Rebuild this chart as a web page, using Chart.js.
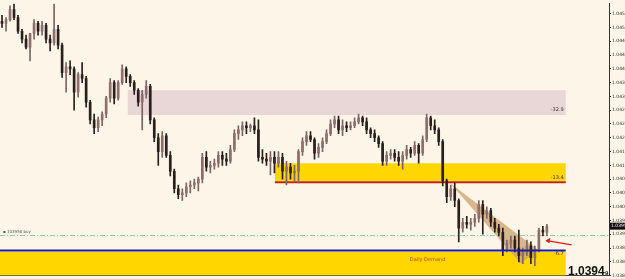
<!DOCTYPE html>
<html>
<head>
<meta charset="utf-8">
<script src="https://cdn.jsdelivr.net/npm/chart.js@4.4.1/dist/chart.umd.min.js"></script>
<style>
  html, body { margin: 0; padding: 0; background: #fdf6e8; }
  #wrap { width: 625px; height: 279px; position: relative; }
</style>
</head>
<body>
<div id="wrap"><canvas id="priceChart"></canvas></div>
<script>
// GBPUSD-style candles (left to right)
const opens = [
  1.04543, 1.04537, 1.04548, 1.04577, 1.04554, 1.04514, 1.04491, 1.04468, 1.04508, 1.04537,
  1.04514, 1.04531, 1.04491, 1.04480, 1.04520, 1.04474, 1.04394, 1.04411, 1.04405, 1.04337,
  1.04388, 1.04377, 1.04308, 1.04257, 1.04234, 1.04257, 1.04274, 1.04320, 1.04365, 1.04320,
  1.04365, 1.04405, 1.04383, 1.04365, 1.04343, 1.04308, 1.04331, 1.04354, 1.04257, 1.04205,
  1.04165, 1.04211, 1.04154, 1.04108, 1.04057, 1.04040, 1.04045, 1.04063, 1.04068, 1.04074,
  1.04085, 1.04148, 1.04120, 1.04125, 1.04131, 1.04154, 1.04143, 1.04137, 1.04171, 1.04217,
  1.04228, 1.04240, 1.04234, 1.04240, 1.04228, 1.04148, 1.04143, 1.04137, 1.04148, 1.04131,
  1.04148, 1.04108, 1.04120, 1.04103, 1.04108, 1.04165, 1.04194, 1.04211, 1.04200, 1.04160,
  1.04177, 1.04194, 1.04217, 1.04245, 1.04257, 1.04228, 1.04240, 1.04234, 1.04240, 1.04251,
  1.04263, 1.04251, 1.04228, 1.04217, 1.04205, 1.04188, 1.04137, 1.04154, 1.04160, 1.04148,
  1.04137, 1.04154, 1.04171, 1.04160, 1.04183, 1.04160, 1.04200, 1.04263, 1.04240, 1.04228,
  1.04194, 1.04080, 1.04034, 1.04057, 1.04023, 1.03943, 1.03960, 1.03954, 1.03960, 1.03971,
  1.04011, 1.03983, 1.03994, 1.03960, 1.03943, 1.03931, 1.03880, 1.03897, 1.03908, 1.03885,
  1.03863, 1.03874, 1.03891, 1.03857, 1.03880, 1.03937, 1.03931
];
const highs = [
  1.04560, 1.04554, 1.04588, 1.04594, 1.04560, 1.04520, 1.04503, 1.04480, 1.04548, 1.04543,
  1.04543, 1.04537, 1.04503, 1.04594, 1.04531, 1.04480, 1.04423, 1.04428, 1.04411, 1.04394,
  1.04423, 1.04383, 1.04314, 1.04274, 1.04265, 1.04280, 1.04325, 1.04377, 1.04371, 1.04371,
  1.04417, 1.04411, 1.04388, 1.04371, 1.04348, 1.04343, 1.04371, 1.04360, 1.04263, 1.04217,
  1.04223, 1.04217, 1.04165, 1.04114, 1.04068, 1.04057, 1.04074, 1.04080, 1.04085, 1.04091,
  1.04160, 1.04165, 1.04137, 1.04143, 1.04165, 1.04165, 1.04160, 1.04183, 1.04228, 1.04240,
  1.04251, 1.04251, 1.04245, 1.04263, 1.04257, 1.04171, 1.04160, 1.04165, 1.04165, 1.04165,
  1.04160, 1.04137, 1.04131, 1.04125, 1.04171, 1.04205, 1.04223, 1.04223, 1.04205, 1.04188,
  1.04205, 1.04228, 1.04257, 1.04268, 1.04268, 1.04257, 1.04251, 1.04251, 1.04263, 1.04274,
  1.04268, 1.04263, 1.04234, 1.04228, 1.04211, 1.04194, 1.04165, 1.04171, 1.04171, 1.04165,
  1.04165, 1.04183, 1.04177, 1.04194, 1.04188, 1.04211, 1.04274, 1.04268, 1.04257, 1.04234,
  1.04200, 1.04085, 1.04068, 1.04074, 1.04028, 1.03971, 1.03977, 1.03971, 1.03983, 1.04023,
  1.04023, 1.04005, 1.04000, 1.03971, 1.03954, 1.03943, 1.03908, 1.03920, 1.03920, 1.03937,
  1.03885, 1.03908, 1.03903, 1.03891, 1.03943, 1.03948, 1.03954
];
const lows = [
  1.04525, 1.04514, 1.04543, 1.04548, 1.04508, 1.04480, 1.04463, 1.04428, 1.04491, 1.04503,
  1.04503, 1.04480, 1.04457, 1.04474, 1.04463, 1.04380, 1.04337, 1.04388, 1.04285, 1.04323,
  1.04365, 1.04294, 1.04245, 1.04217, 1.04223, 1.04240, 1.04263, 1.04308, 1.04303, 1.04314,
  1.04360, 1.04365, 1.04354, 1.04331, 1.04297, 1.04228, 1.04320, 1.04245, 1.04194, 1.04125,
  1.04148, 1.04148, 1.04094, 1.04045, 1.04028, 1.04023, 1.04034, 1.04045, 1.04057, 1.04051,
  1.04074, 1.04108, 1.04103, 1.04114, 1.04120, 1.04125, 1.04125, 1.04131, 1.04165, 1.04200,
  1.04211, 1.04217, 1.04223, 1.04217, 1.04137, 1.04131, 1.04125, 1.04097, 1.04103, 1.04120,
  1.04085, 1.04068, 1.04085, 1.04080, 1.04074, 1.04154, 1.04183, 1.04194, 1.04143, 1.04148,
  1.04165, 1.04188, 1.04211, 1.04234, 1.04217, 1.04211, 1.04223, 1.04228, 1.04234, 1.04245,
  1.04240, 1.04217, 1.04205, 1.04194, 1.04177, 1.04125, 1.04125, 1.04143, 1.04137, 1.04125,
  1.04114, 1.04143, 1.04148, 1.04154, 1.04131, 1.04154, 1.04194, 1.04228, 1.04217, 1.04183,
  1.04065, 1.04017, 1.04023, 1.04005, 1.03903, 1.03931, 1.03943, 1.03937, 1.03948, 1.03960,
  1.03925, 1.03971, 1.03948, 1.03931, 1.03920, 1.03863, 1.03874, 1.03885, 1.03874, 1.03845,
  1.03840, 1.03863, 1.03840, 1.03834, 1.03874, 1.03920, 1.03920
];
const closes = [
  1.04537, 1.04548, 1.04577, 1.04554, 1.04514, 1.04491, 1.04468, 1.04508, 1.04537, 1.04514,
  1.04531, 1.04491, 1.04480, 1.04520, 1.04474, 1.04394, 1.04411, 1.04405, 1.04337, 1.04388,
  1.04377, 1.04308, 1.04257, 1.04234, 1.04257, 1.04274, 1.04320, 1.04365, 1.04320, 1.04365,
  1.04405, 1.04383, 1.04365, 1.04343, 1.04308, 1.04331, 1.04354, 1.04257, 1.04205, 1.04165,
  1.04211, 1.04154, 1.04108, 1.04057, 1.04040, 1.04045, 1.04063, 1.04068, 1.04074, 1.04085,
  1.04148, 1.04120, 1.04125, 1.04131, 1.04154, 1.04143, 1.04137, 1.04171, 1.04217, 1.04228,
  1.04240, 1.04234, 1.04240, 1.04228, 1.04148, 1.04143, 1.04137, 1.04148, 1.04131, 1.04148,
  1.04108, 1.04120, 1.04103, 1.04108, 1.04165, 1.04194, 1.04211, 1.04200, 1.04160, 1.04177,
  1.04194, 1.04217, 1.04245, 1.04257, 1.04228, 1.04240, 1.04234, 1.04240, 1.04251, 1.04263,
  1.04251, 1.04228, 1.04217, 1.04205, 1.04188, 1.04137, 1.04154, 1.04160, 1.04148, 1.04137,
  1.04154, 1.04171, 1.04160, 1.04183, 1.04160, 1.04200, 1.04263, 1.04240, 1.04228, 1.04194,
  1.04080, 1.04034, 1.04057, 1.04023, 1.03943, 1.03960, 1.03954, 1.03960, 1.03971, 1.04011,
  1.03983, 1.03994, 1.03960, 1.03943, 1.03931, 1.03880, 1.03897, 1.03908, 1.03885, 1.03863,
  1.03874, 1.03891, 1.03857, 1.03880, 1.03937, 1.03931, 1.03948
];

// price axis labels
const tickValues = [
  1.04565, 1.04525, 1.04485, 1.04445, 1.04405, 1.04365, 1.04325, 1.04285, 1.04245, 1.04205,
  1.04165, 1.04125, 1.04085, 1.04045, 1.04005, 1.03965, 1.03925, 1.03885, 1.03845, 1.03805
];

// zonas / anotaciones (precio y posición en velas)
const supplyZone = [1.04343, 1.04271];       // rosa, -32.9
const midZone = [1.04131, 1.04080];          // amarilla, -13.4
const midLine = 1.04076;                     // línea roja
const demandTop = 1.03874;                   // zona amarilla inferior
const demandLine = 1.03878;                  // línea azul
const buyLine = 1.03923;                     // línea verde punteada
const lastPrice = 1.03950;
const bigPriceText = '1.0394';
const bigPriceDigit = '9';
const wedge = [[111.8, 1.04074], [133.8, 1.03880], [129.5, 1.03840]];
const arrowFrom = [141.2, 1.03897];
const arrowTo = [135.6, 1.03906];

const slotCount = 152;
const labels = Array.from({ length: slotCount }, (_, i) => i);
const wicks = lows.map((l, i) => [l, highs[i]]);
const bodies = opens.map((o, i) => [o, closes[i]]);
const bodyColors = opens.map((o, i) => closes[i] >= o ? '#8f6d6d' : '#2a1f1f');
const wickColors = opens.map((o, i) => closes[i] >= o ? '#7a6666' : '#2a1f1f');

const BG = '#fdf6e8';

const backdrop = {
    id: 'backdrop',
    beforeDraw(chart) {
        const { ctx, width, height } = chart;
        ctx.save();
        ctx.fillStyle = BG;
        ctx.fillRect(0, 0, width, height);
        ctx.restore();
    },
    beforeDatasetsDraw(chart) {
        const { ctx, chartArea: area, scales: { x, y } } = chart;
        const right = x.getPixelForValue(140.7);
        ctx.save();

        // zona rosa
        ctx.fillStyle = '#e9d6d6';
        let x0 = x.getPixelForValue(31.4);
        let y0 = y.getPixelForValue(supplyZone[0]);
        let y1 = y.getPixelForValue(supplyZone[1]);
        ctx.fillRect(x0, y0, right - x0, y1 - y0);

        // zona amarilla media
        ctx.fillStyle = '#ffd600';
        x0 = x.getPixelForValue(68.1);
        y0 = y.getPixelForValue(midZone[0]);
        y1 = y.getPixelForValue(midZone[1]);
        ctx.fillRect(x0, y0, right - x0, y1 - y0);

        // zona de demanda
        y0 = y.getPixelForValue(demandTop);
        ctx.fillRect(area.left, y0, right - area.left, area.bottom - y0);

        // cuña
        ctx.fillStyle = 'rgba(205, 160, 110, 0.75)';
        ctx.beginPath();
        wedge.forEach(([i, p], k) => {
            const px = x.getPixelForValue(i), py = y.getPixelForValue(p);
            k === 0 ? ctx.moveTo(px, py) : ctx.lineTo(px, py);
        });
        ctx.closePath();
        ctx.fill();

        // línea roja
        ctx.strokeStyle = '#c4200c';
        ctx.lineWidth = 2;
        ctx.beginPath();
        let ly = y.getPixelForValue(midLine);
        ctx.moveTo(x.getPixelForValue(68.1), ly);
        ctx.lineTo(right, ly);
        ctx.stroke();

        // línea verde (orden)
        ctx.strokeStyle = '#9ccc9c';
        ctx.lineWidth = 1;
        ctx.setLineDash([5, 2, 1, 2]);
        ly = Math.round(y.getPixelForValue(buyLine)) + 0.5;
        ctx.beginPath();
        ctx.moveTo(area.left, ly);
        ctx.lineTo(area.right, ly);
        ctx.stroke();
        ctx.setLineDash([]);

        ctx.restore();
    },
    afterDatasetsDraw(chart) {
        const { ctx, chartArea: area, scales: { x, y } } = chart;
        const right = x.getPixelForValue(140.7);
        ctx.save();

        // línea azul
        ctx.strokeStyle = '#1c1c9c';
        ctx.lineWidth = 2;
        const ly = y.getPixelForValue(demandLine);
        ctx.beginPath();
        ctx.moveTo(area.left, ly);
        ctx.lineTo(right, ly);
        ctx.stroke();

        // etiquetas de zonas
        ctx.fillStyle = '#333';
        ctx.font = '5px "DejaVu Sans"';
        ctx.textAlign = 'right';
        ctx.textBaseline = 'bottom';
        ctx.fillText('-32.9', right - 2, y.getPixelForValue(supplyZone[1]) - 3);
        ctx.fillText('-13.4', right - 2, y.getPixelForValue(midZone[1]) - 1);
        ctx.textBaseline = 'top';
        ctx.fillText('-6.7', right - 2, ly + 1);

        ctx.fillStyle = '#d2400e';
        ctx.textAlign = 'left';
        ctx.textBaseline = 'middle';
        ctx.font = '5px "DejaVu Sans"';
        ctx.fillText('Daily Demand', x.getPixelForValue(101.8), y.getPixelForValue(1.03851));

        ctx.fillStyle = '#555';
        ctx.font = '4px "DejaVu Sans"';
        ctx.textBaseline = 'bottom';
        ctx.fillText('\u25AA 103950 buy', area.left + 3, y.getPixelForValue(buyLine) - 1);

        // flecha roja
        const ax0 = x.getPixelForValue(arrowFrom[0]), ay0 = y.getPixelForValue(arrowFrom[1]);
        const ax1 = x.getPixelForValue(arrowTo[0]), ay1 = y.getPixelForValue(arrowTo[1]);
        ctx.strokeStyle = '#e01818';
        ctx.fillStyle = '#e01818';
        ctx.lineWidth = 1.2;
        ctx.beginPath();
        ctx.moveTo(ax0 + 4, ay0 + 1);
        ctx.lineTo(ax1 + 3, ay1);
        ctx.stroke();
        ctx.beginPath();
        ctx.moveTo(ax1, ay1);
        ctx.lineTo(ax1 + 5, ay1 - 3);
        ctx.lineTo(ax1 + 4, ay1 + 2.5);
        ctx.closePath();
        ctx.fill();

        ctx.restore();
    },
    afterDraw(chart) {
        const { ctx, chartArea: area, scales: { y } } = chart;
        ctx.save();
        // precio actual en el eje
        const py = y.getPixelForValue(lastPrice);
        ctx.fillStyle = '#111';
        ctx.fillRect(area.right + 1, py - 3, 16, 7);
        ctx.fillStyle = '#fff';
        ctx.font = '4.5px "DejaVu Sans"';
        ctx.textAlign = 'left';
        ctx.textBaseline = 'middle';
        ctx.fillText(lastPrice.toFixed(5), area.right + 2, py + 0.5);

        // precio grande
        ctx.fillStyle = '#111';
        ctx.font = 'bold 12px "Liberation Sans"';
        ctx.textBaseline = 'alphabetic';
        ctx.fillText(bigPriceText, 568, 275);
        ctx.font = 'bold 6px "Liberation Sans"';
        ctx.fillText(bigPriceDigit, 605, 275);
        ctx.restore();
    }
};

new Chart(document.getElementById('priceChart'), {
    type: 'bar',
    data: {
        labels: labels,
        datasets: [{
            data: bodies,
            backgroundColor: bodyColors,
            barThickness: 2,
            grouped: false,
            order: 1
        }, {
            data: wicks,
            backgroundColor: wickColors,
            barThickness: 1,
            grouped: false,
            order: 2
        }]
    },
    options: {
        responsive: true,
        maintainAspectRatio: false,
        animation: false,
        layout: { padding: 0 },
        plugins: {
            legend: { display: false },
            tooltip: { enabled: false }
        },
        scales: {
            x: {
                ticks: { display: false },
                grid: { display: false, drawTicks: false },
                border: { display: true, color: '#444' },
                afterFit: (s) => { s.height = 3; }
            },
            y: {
                position: 'right',
                min: 1.03806,
                max: 1.04594,
                afterBuildTicks: (s) => { s.ticks = tickValues.map(v => ({ value: v })); },
                ticks: {
                    autoSkip: false,
                    padding: 1,
                    color: '#333',
                    font: { size: 4.5, family: 'DejaVu Sans' },
                    callback: (v) => Number(v).toFixed(5)
                },
                grid: { drawOnChartArea: false, tickLength: 2, color: '#333' },
                border: { display: true, color: '#333' },
                afterFit: (s) => { s.width = 16; }
            }
        }
    },
    plugins: [backdrop]
});
</script>
</body>
</html>
